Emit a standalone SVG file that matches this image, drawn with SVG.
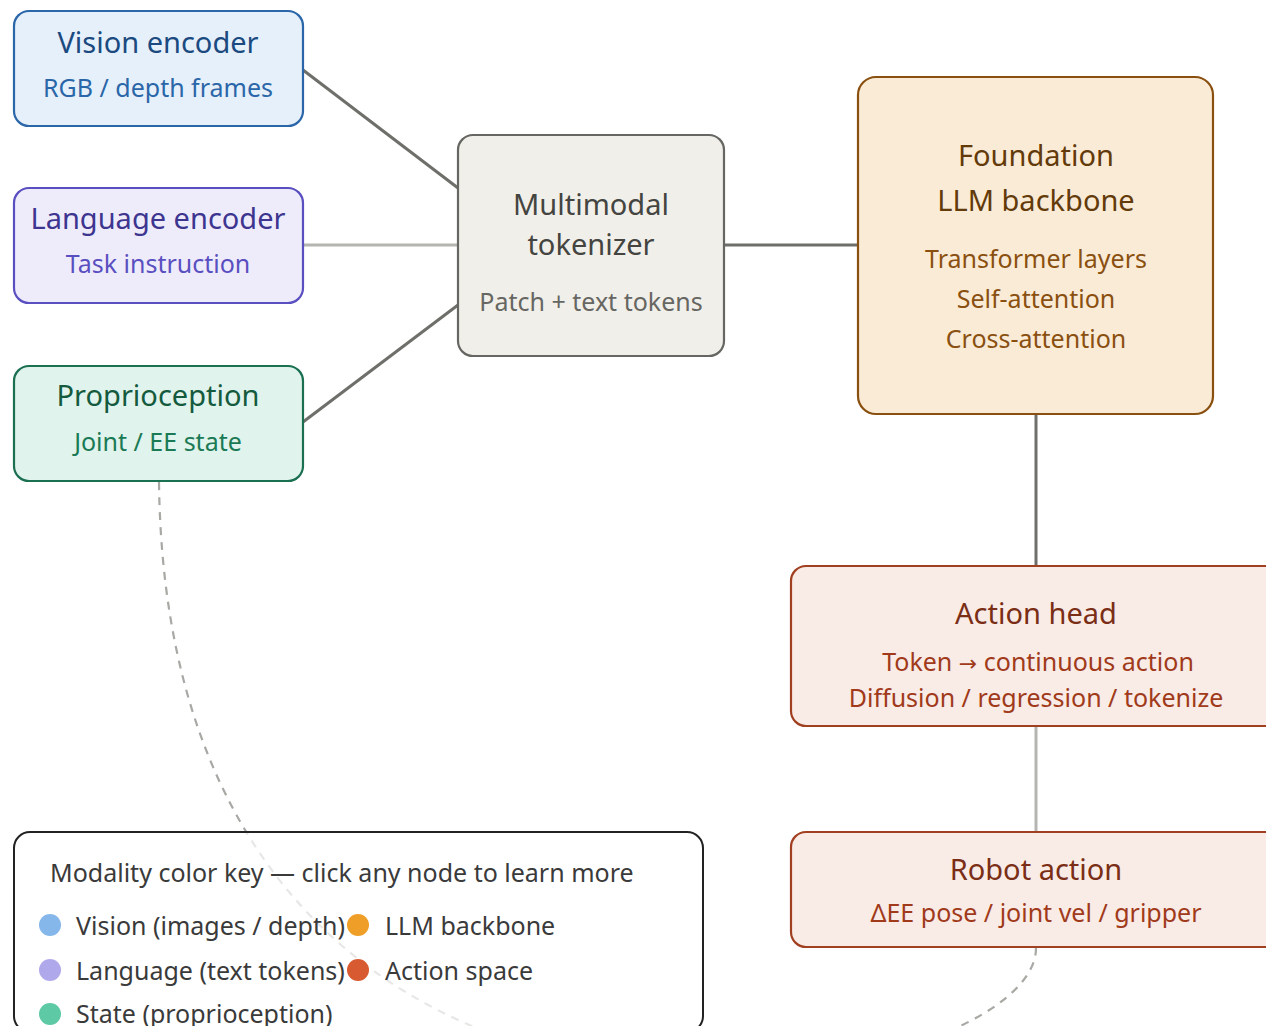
<svg xmlns="http://www.w3.org/2000/svg" width="1266" height="1026" viewBox="0 0 1266 1026">
  <style>
    text { font-family: "Noto Sans", "Open Sans", sans-serif; text-anchor: middle; }
    .t { font-size: 29px; }
    .s { font-size: 25px; }
    .arr { font-family: "DejaVu Sans", sans-serif; font-size: 22px; }
    .box { stroke-width: 2.2; }
    .edge { fill: none; stroke-width: 3; }
    .dark { stroke: #6e6e6a; }
    .light { stroke: #b4b4b0; }
    .lg { font-size: 25px; fill: #3a3a3a; text-anchor: start; }
  </style>
  <rect width="1266" height="1026" fill="#ffffff"/>

  <!-- connectors -->
  <g id="edges">
    <path class="edge dark" d="M303,70 L458,188"/>
    <path class="edge light" d="M303,245 L458,245"/>
    <path class="edge dark" d="M303,422 L458,305"/>
    <path class="edge dark" d="M724,245 L858,245"/>
    <path class="edge dark" d="M1036,414 L1036,566"/>
    <path class="edge light" d="M1036,726 L1036,832"/>
    <path d="M159,482 C168,1260 1036,1100 1036,948" fill="none" stroke="#a8a8a4" stroke-width="2.2" stroke-dasharray="8 7"/>
  </g>

  <g id="vision">
    <rect class="box" x="14" y="11" width="289" height="115" rx="15" fill="#e6f0fb" stroke="#2a66a8"/>
    <text class="t" x="158" y="53" fill="#1a4a80">Vision encoder</text>
    <text class="s" x="158" y="97" fill="#2a66a8">RGB / depth frames</text>
  </g>

  <g id="language">
    <rect class="box" x="14" y="188" width="289" height="115" rx="15" fill="#eeecfb" stroke="#5a4fc0"/>
    <text class="t" x="158" y="229" fill="#3d3590">Language encoder</text>
    <text class="s" x="158" y="273" fill="#5a4fc0">Task instruction</text>
  </g>

  <g id="proprioception">
    <rect class="box" x="14" y="366" width="289" height="115" rx="15" fill="#e0f3ec" stroke="#1a7050"/>
    <text class="t" x="158" y="406" fill="#145a3e">Proprioception</text>
    <text class="s" x="158" y="451" fill="#1a7a55">Joint / EE state</text>
  </g>

  <g id="tokenizer">
    <rect class="box" x="458" y="135" width="266" height="221" rx="15" fill="#f1efe9" stroke="#666662"/>
    <text class="t" x="591" y="215" fill="#444441">Multimodal</text>
    <text class="t" x="591" y="255" fill="#444441">tokenizer</text>
    <text class="s" x="591" y="311" fill="#666662">Patch + text tokens</text>
  </g>

  <g id="backbone">
    <rect class="box" x="858" y="77" width="355" height="337" rx="18" fill="#faebd7" stroke="#8a5010"/>
    <text class="t" x="1036" y="166" fill="#633a0a">Foundation</text>
    <text class="t" x="1036" y="211" fill="#633a0a">LLM backbone</text>
    <text class="s" x="1036" y="268" fill="#8a5010">Transformer layers</text>
    <text class="s" x="1036" y="308" fill="#8a5010">Self-attention</text>
    <text class="s" x="1036" y="348" fill="#8a5010">Cross-attention</text>
  </g>

  <g id="action-head">
    <rect class="box" x="791" y="566" width="490" height="160" rx="15" fill="#f9ebe6" stroke="#a04020"/>
    <text class="t" x="1036" y="624" fill="#7a2e15">Action head</text>
    <text class="s" x="1038" y="671" fill="#a03a1a">Token <tspan class="arr">→</tspan> continuous action</text>
    <text class="s" x="1036" y="707" fill="#a03a1a">Diffusion / regression / tokenize</text>
  </g>

  <g id="robot-action">
    <rect class="box" x="791" y="832" width="490" height="115" rx="15" fill="#f9ebe6" stroke="#a04020"/>
    <text class="t" x="1036" y="880" fill="#7a2e15">Robot action</text>
    <text class="s" x="1036" y="922" fill="#a03a1a">ΔEE pose / joint vel / gripper</text>
  </g>

  <g id="legend">
    <rect x="14" y="832" width="689" height="200" rx="16" fill="#ffffff" fill-opacity="0.72" stroke="#222222" stroke-width="2"/>
    <text class="lg" x="50" y="882">Modality color key — click any node to learn more</text>
    <circle cx="50" cy="925" r="11" fill="#85b7eb"/>
    <text class="lg" x="76" y="935">Vision (images / depth)</text>
    <circle cx="50" cy="970" r="11" fill="#afa9ec"/>
    <text class="lg" x="76" y="980">Language (text tokens)</text>
    <circle cx="50" cy="1014" r="11" fill="#5dcaa5"/>
    <text class="lg" x="76" y="1023">State (proprioception)</text>
    <circle cx="358" cy="925" r="11" fill="#ef9f27"/>
    <text class="lg" x="385" y="935">LLM backbone</text>
    <circle cx="358" cy="970" r="11" fill="#d85a30"/>
    <text class="lg" x="385" y="980">Action space</text>
  </g>
</svg>
